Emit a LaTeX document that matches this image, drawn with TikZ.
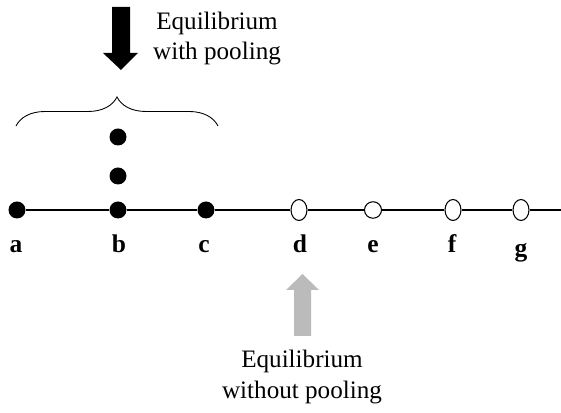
\documentclass[tikz,border=0pt]{standalone}
\usepackage{fontspec}
\setmainfont{Liberation Serif}
\usetikzlibrary{shapes.geometric,decorations.pathreplacing}
\definecolor{lightarrow}{RGB}{187,187,187}

\begin{document}
\begin{tikzpicture}[
    pooled/.style={circle,fill=black,inner sep=0pt,minimum size=3.4mm},
    single/.style={ellipse,draw,fill=white,line width=0.6pt,inner sep=0pt,minimum width=3.2mm,minimum height=4.2mm},
    lbl/.style={anchor=base,font=\fontsize{14.5}{16}\selectfont\bfseries},
    caption/.style={align=center,font=\fontsize{14.3}{17.5}\selectfont}
  ]
  \useasboundingbox (0,0) rectangle (11.22,8.26);
  % types on the line
  \node[pooled] (a) at (0.34,4.06) {};
  \node[pooled] (b) at (2.36,4.06) {};
  \node[pooled] (c) at (4.12,4.06) {};
  \node[single] (d) at (5.98,4.06) {};
  \node[single,minimum width=3.4mm,minimum height=3.3mm] (e) at (7.46,4.06) {};
  \node[single] (f) at (9.06,4.06) {};
  \node[single] (g) at (10.42,4.06) {};
  \coordinate (lineend) at (11.22,4.06);
  \draw[line width=0.6pt] (a) -- (b) -- (c) -- (d) -- (e) -- (f) -- (g) -- (lineend);
  % pooled types stacked on b
  \node[pooled] (b2) at (2.36,4.74) {};
  \node[pooled] (b3) at (2.36,5.52) {};
  % labels
  \node[lbl] (la) at (0.32,3.20) {a};
  \node[lbl] (lb) at (2.38,3.20) {b};
  \node[lbl] (lc) at (4.08,3.20) {c};
  \node[lbl] (ld) at (6.00,3.20) {d};
  \node[lbl] (le) at (7.46,3.20) {e};
  \node[lbl] (lf) at (9.04,3.20) {f};
  \node[lbl] (lg) at (10.42,3.12) {g};
  % brace and arrows
  \draw[line width=0.5pt,decorate,decoration={brace,amplitude=0.58cm}] (0.32,5.74) -- (4.36,5.74);
  \fill (2.24,8.12) -- (2.60,8.12) -- (2.60,7.20) -- (2.76,7.20) -- (2.42,6.86) -- (2.06,7.20) -- (2.24,7.20) -- cycle;
  \fill[lightarrow] (5.88,1.54) -- (6.22,1.54) -- (6.22,2.46) -- (6.38,2.46) -- (6.05,2.78) -- (5.72,2.46) -- (5.88,2.46) -- cycle;
  \node[caption] (withpool) at (4.34,7.49) {Equilibrium\\with pooling};
  \node[caption] (nopool) at (6.04,0.72) {Equilibrium\\without pooling};
\end{tikzpicture}
\end{document}
